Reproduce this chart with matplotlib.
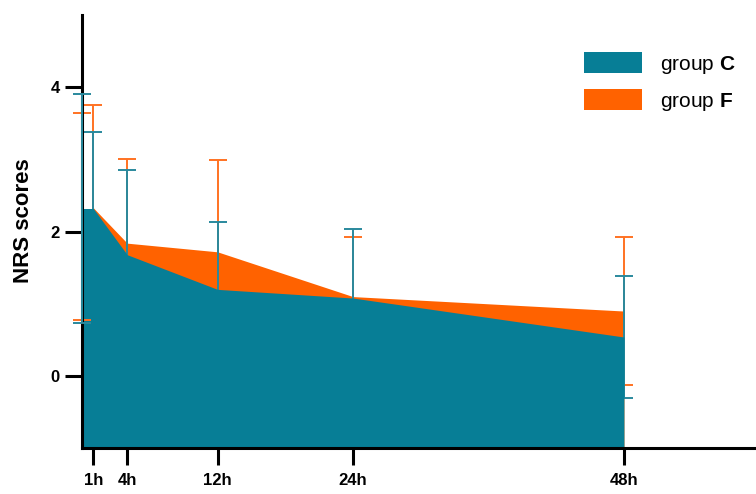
import matplotlib
matplotlib.use("Agg")
import matplotlib.pyplot as plt
from matplotlib.patches import Patch

params = {
    'font.family': ['Liberation Sans', 'DejaVu Sans'],
    'mathtext.fontset': 'custom',
    'mathtext.rm': 'Liberation Sans',
    'mathtext.bf': 'Liberation Sans:bold',
}
plt.rcParams.update(params)

# hours after surgery
hours = [0, 1, 4, 12, 24, 48]
tick_hours = [1, 4, 12, 24, 48]
tick_labels = ["1h", "4h", "12h", "24h", "48h"]

# NRS scores, mean and SD
c_mean = [2.32, 2.32, 1.68, 1.20, 1.08, 0.54]
c_sd = [1.58, 1.06, 1.18, 0.93, 0.96, 0.84]
f_mean = [2.21, 2.33, 1.84, 1.72, 1.10, 0.90]
f_sd = [1.43, 1.43, 1.16, 1.27, 0.82, 1.02]

teal = '#077e96'
orange = '#ff6200'
teal_bar = '#2a899d'
orange_bar = '#ff7222'

fig = plt.figure(figsize=(7.56, 4.94), dpi=100)
ax = fig.add_axes([0.1085, 0.0927, 0.896, 0.8769])

bar_kw = dict(fmt='none', elinewidth=1.4, capsize=6.5, capthick=1.4, clip_on=False)

# orange below, teal on top; bars hidden where they fall inside the teal area
ax.fill_between(hours, f_mean, -1, color=orange, lw=0, zorder=1)
ax.errorbar(hours[1:], f_mean[1:], yerr=f_sd[1:], ecolor=orange_bar, zorder=1.5, **bar_kw)
ax.errorbar(hours[1:], c_mean[1:], yerr=c_sd[1:], ecolor=teal_bar, zorder=1.8, **bar_kw)
ax.fill_between(hours, c_mean, -1, color=teal, lw=0, zorder=2)

# baseline bars sit on the y axis
ax.errorbar(hours[:1], f_mean[:1], yerr=f_sd[:1], ecolor=orange_bar, zorder=2.1, **bar_kw)
ax.errorbar(hours[:1], c_mean[:1], yerr=c_sd[:1], ecolor=teal_bar, zorder=3, **bar_kw)

ax.set_xlim(0, 60)
ax.set_ylim(-1, 5)
ax.set_xticks(tick_hours)
ax.set_xticklabels(tick_labels)
ax.set_yticks([0, 2, 4])

for side in ['top', 'right']:
    ax.spines[side].set_visible(False)
for side in ['left', 'bottom']:
    ax.spines[side].set_linewidth(2.2)

ax.tick_params(axis='both', length=12, width=2.2)
ax.tick_params(axis='y', pad=4, labelsize=12)
ax.tick_params(axis='x', pad=6, labelsize=12)
for lab in ax.get_xticklabels() + ax.get_yticklabels():
    lab.set_fontweight('bold')

ax.set_ylabel("NRS scores", fontsize=16, fontweight='bold')
ax.yaxis.set_label_coords(-0.0715, 0.525)

handles = [Patch(facecolor=teal, edgecolor='none'),
           Patch(facecolor=orange, edgecolor='none')]
ax.legend(handles, ["group $\\mathbf{C}$", "group $\\mathbf{F}$"],
          loc='upper left', bbox_to_anchor=(0.741, 0.915), frameon=False,
          fontsize=15, borderaxespad=0, borderpad=0, handlelength=2.8,
          handleheight=1.2, handletextpad=0.85, labelspacing=0.65)

fig.savefig("out.png", dpi=100)
